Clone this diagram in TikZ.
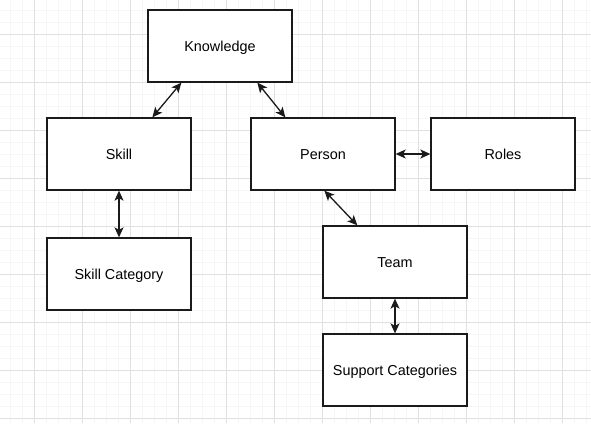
\documentclass[tikz,border=0pt]{standalone}
\usepackage{fontspec}
\setmainfont{Liberation Sans}
\usetikzlibrary{arrows.meta}
\definecolor{gridminor}{HTML}{F6F6F6}
\definecolor{gridmajor}{HTML}{E0E0E0}
\definecolor{stroke}{HTML}{1A1A1A}
\tikzset{
  entity/.style={draw=stroke, line width=1.3pt, fill=white, minimum width=144pt, minimum height=72pt, inner sep=0pt, text height=10.5pt, text depth=0.5pt, font=\fontsize{14.4pt}{17pt}\selectfont, text=black},
  link/.style={draw=stroke, line width=1.3pt, {Stealth[length=10pt,width=9pt,inset=2.5pt]}-{Stealth[length=10pt,width=9pt,inset=2.5pt]}}
}
\begin{document}
\begin{tikzpicture}[x=1pt,y=-1pt]
\useasboundingbox (0,0) rectangle (591,423);
\fill[white] (0,0) rectangle (591,423);
% grid
\foreach \i in {10,22,...,590} {
  \draw[gridminor, line width=0.8pt] (\i,0) -- (\i,423);
}
\foreach \j in {10,22,...,422} {
  \draw[gridminor, line width=0.8pt] (0,\j) -- (591,\j);
}
\foreach \i in {34,82,...,590} {
  \draw[gridmajor, line width=0.8pt] (\i,0) -- (\i,423);
}
\foreach \j in {34,82,...,422} {
  \draw[gridmajor, line width=0.8pt] (0,\j) -- (591,\j);
}
% nodes
\node[entity] (knowledge) at (220,46) {Knowledge};
\node[entity] (skill) at (119,154) {Skill};
\node[entity] (person) at (323,154) {Person};
\node[entity] (roles) at (503,154) {Roles};
\node[entity] (skillcat) at (119,274) {Skill Category};
\node[entity] (team) at (395,262) {Team};
\node[entity] (support) at (395,370) {Support Categories};
% connectors
\draw[link] ([xshift=34pt]knowledge.south west) -- ([xshift=106pt]skill.north west);
\draw[link] ([xshift=110pt]knowledge.south west) -- ([xshift=35pt]person.north west);
\draw[link] (skill.south) -- (skillcat.north);
\draw[link] (person.east) -- (roles.west);
\draw[link] ([xshift=74pt]person.south west) -- ([xshift=35pt]team.north west);
\draw[link] (team.south) -- (support.north);
\end{tikzpicture}
\end{document}
